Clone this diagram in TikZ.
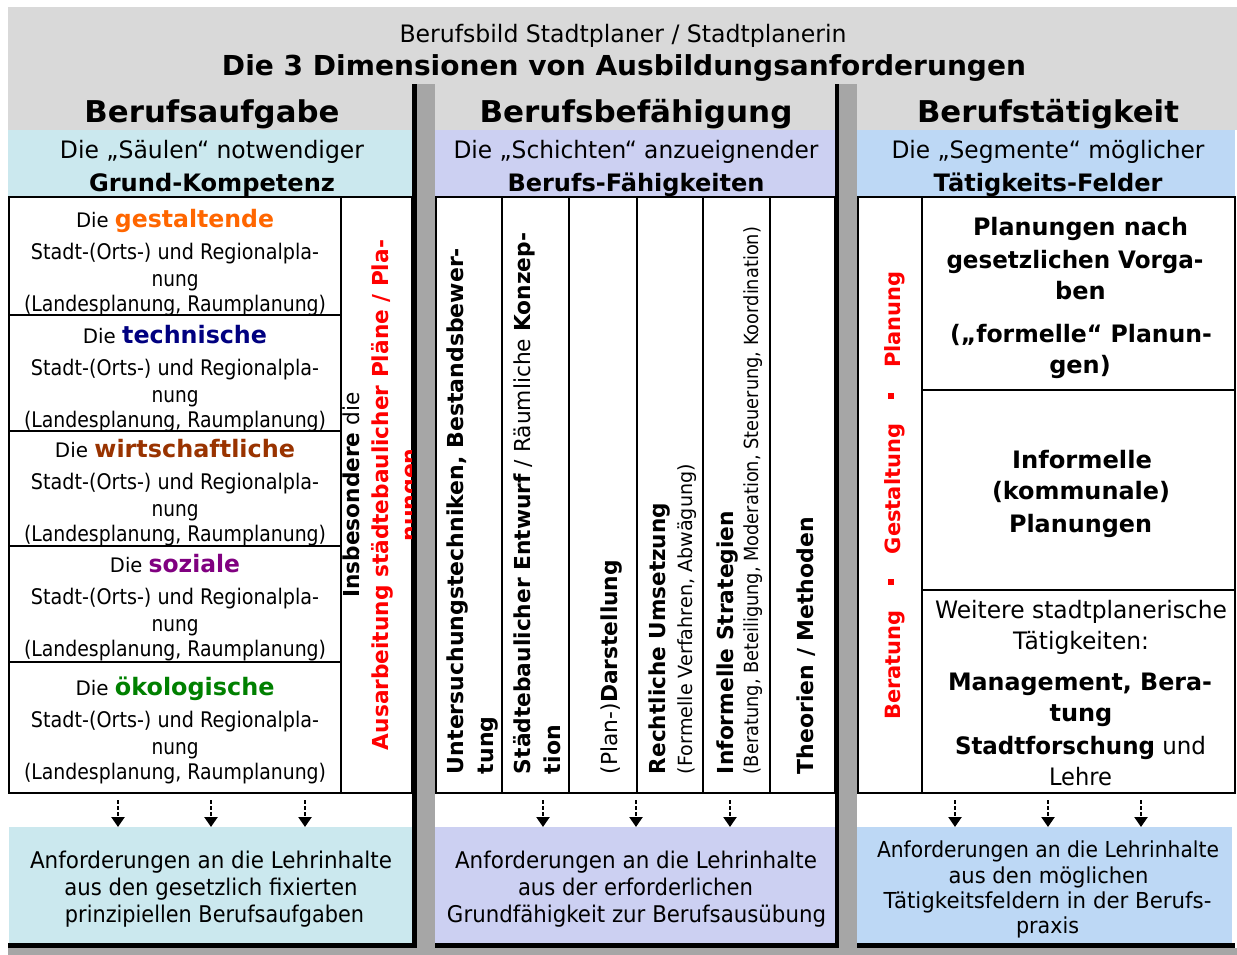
\documentclass[tikz,border=0pt]{standalone}
\usepackage{fontspec}
\setmainfont{DejaVu Sans}
\usepackage{graphicx}
\usetikzlibrary{arrows.meta}
\definecolor{hdr}{HTML}{D9D9D9}
\definecolor{sepgray}{HTML}{A6A6A6}
\definecolor{cA}{HTML}{CBE8EE}
\definecolor{cB}{HTML}{CCD0F2}
\definecolor{cC}{HTML}{BDD8F5}
\definecolor{corange}{HTML}{FF6600}
\definecolor{cnavy}{HTML}{000080}
\definecolor{cbrown}{HTML}{993300}
\definecolor{cpurple}{HTML}{800080}
\definecolor{cgreen}{HTML}{008000}
\definecolor{cred}{HTML}{FF0000}
\newcommand\setfs[1]{\fontsize{#1pt}{#1pt}\selectfont}
\newcommand\fitw[2]{\resizebox{#1pt}{\height}{#2}}
\begin{document}
\begin{tikzpicture}[x=1pt,y=-1pt,
 txt/.style={inner sep=0pt,outer sep=0pt,anchor=base},
 rotc/.style={inner sep=0pt,outer sep=0pt,anchor=base,rotate=90},
 rotw/.style={inner sep=0pt,outer sep=0pt,anchor=base west,rotate=90},
 gridline/.style={draw=black,line width=2pt},
 band/.style={inner sep=0pt,outer sep=0pt,draw=none},
 arr/.style={line width=2.4pt,dash pattern=on 4pt off 2pt,-{Triangle[width=13pt,length=10pt]}}]
\useasboundingbox (0,0) rectangle (1237,955);
\fill[white] (0,0) rectangle (1237,955);
% header and bands
\fill[hdr] (8,7) rectangle (1237,130);
\fill[cA] (8,130) rectangle (412,196);
\fill[cB] (435,130) rectangle (835,196);
\fill[cC] (857,130) rectangle (1235,196);
% bottom boxes
\node[band,fill=cA,minimum width=403pt,minimum height=116pt] (box1) at (210.5,885) {};
\node[band,fill=cB,minimum width=400pt,minimum height=116pt] (box2) at (635,885) {};
\node[band,fill=cC,minimum width=375pt,minimum height=116pt] (box3) at (1044.5,885) {};
% tables
\draw[gridline] (9,197) rectangle (412,793);
\draw[gridline] (341,197) -- (341,793);
\foreach \y in {315,431,546,662} \draw[gridline] (9,\y) -- (341,\y);
\draw[gridline] (436,197) rectangle (835,793);
\foreach \x in {502,569,637,703,770} \draw[gridline] (\x,197) -- (\x,793);
\draw[gridline] (858,197) rectangle (1235,793);
\draw[gridline] (922,197) -- (922,793);
\draw[gridline] (922,390) -- (1235,390);
\draw[gridline] (922,590) -- (1235,590);
% separators
\fill[sepgray] (417,84) rectangle (435,955);
\fill[sepgray] (839,84) rectangle (857,955);
\fill[black] (412,84) rectangle (417,948);
\fill[black] (835,84) rectangle (839,948);
\fill[black] (8,943) rectangle (417,948);
\fill[black] (435,943) rectangle (839,948);
\fill[black] (857,943) rectangle (1235,948);
\fill[sepgray] (8,948) rectangle (1237,955);
% arrows
\foreach \i/\x in {1/118,2/211,3/305} {\coordinate (ar\i) at (\x,800); \draw[arr] (ar\i) -- (ar\i |- box1.north);}
\foreach \i/\x in {4/543,5/636,6/730} {\coordinate (ar\i) at (\x,800); \draw[arr] (ar\i) -- (ar\i |- box2.north);}
\foreach \i/\x in {7/955,8/1048,9/1141} {\coordinate (ar\i) at (\x,800); \draw[arr] (ar\i) -- (ar\i |- box3.north);}
% title
\node[txt] (t1) at (623,43) {\setfs{24}\fitw{447}{Berufsbild Stadtplaner / Stadtplanerin}};
\node[txt] (t2) at (624,76) {\setfs{27.5}\bfseries\fitw{804}{Die 3 Dimensionen von Ausbildungsanforderungen}};
% column titles
\node[txt] (h1) at (212,123) {\setfs{30}\bfseries\fitw{255}{Berufsaufgabe}};
\node[txt] (h2) at (636,123) {\setfs{30}\bfseries\fitw{313}{Berufsbefähigung}};
\node[txt] (h3) at (1048,123) {\setfs{30}\bfseries\fitw{262}{Berufstätigkeit}};
% sub heads
\node[txt] (s1a) at (212,159) {\setfs{24}\fitw{304}{Die „Säulen“ notwendiger}};
\node[txt] (s1b) at (212,191) {\setfs{24}\bfseries\fitw{246}{Grund-Kompetenz}};
\node[txt] (s2a) at (636,159) {\setfs{24}\fitw{365}{Die „Schichten“ anzueignender}};
\node[txt] (s2b) at (636,191) {\setfs{24}\bfseries\fitw{257}{Berufs-Fähigkeiten}};
\node[txt] (s3a) at (1048,159) {\setfs{24}\fitw{313}{Die „Segmente“ möglicher}};
\node[txt] (s3b) at (1048,191) {\setfs{24}\bfseries\fitw{229}{Tätigkeits-Felder}};
% column 1 cells
\foreach \n/\c/\w/\ww/\y in {1/corange/gestaltende/198/227, 2/cnavy/technische/184/343, 3/cbrown/wirtschaftliche/240/457, 4/cpurple/soziale/130/572, 5/cgreen/ökologische/199/695}{
 \node[txt] (die\n) at (175,\y) {\fitw{\ww}{\setfs{20}Die \setfs{24}\bfseries\color{\c}\w}};
 \node[txt] (st\n) at (175,\y+32) {\setfs{21.5}\fitw{288}{Stadt-(Orts-) und Regionalpla-}};
 \node[txt] (nu\n) at (175,\y+59) {\setfs{21.5}\fitw{47}{nung}};
 \node[txt] (la\n) at (175,\y+84) {\setfs{21.5}\fitw{302}{(Landesplanung, Raumplanung)}};
}
\begin{scope}
\clip (342,198) rectangle (411,792);
\node[rotc] (ins) at (359,495) {\setfs{22}\fitw{205}{\textbf{Insbesondere} die}};
\node[rotc,text=cred] (aus) at (388,495) {\setfs{22}\bfseries\fitw{510}{Ausarbeitung städtebaulicher Pläne / Pla-}};
\node[rotc,text=cred] (nun) at (417,495) {\setfs{22}\bfseries nungen};
\end{scope}
% column 2 rotated
\node[rotw] (u1) at (463,774) {\setfs{22}\bfseries\fitw{526}{Untersuchungstechniken, Bestandsbewer-}};
\node[rotw] (u2) at (493,774) {\setfs{22}\bfseries tung};
\node[rotw] (k1) at (530,774) {\setfs{22}\fitw{541}{\textbf{Städtebaulicher Entwurf} / Räumliche \textbf{Konzep-}}};
\node[rotw] (k2) at (560,774) {\setfs{22}\bfseries tion};
\node[rotw] (d1) at (617,774) {\setfs{22}\fitw{214}{(Plan-)\textbf{Darstellung}}};
\node[rotw] (r1) at (665,774) {\setfs{22}\bfseries\fitw{271}{Rechtliche Umsetzung}};
\node[rotw] (r2) at (692,774) {\setfs{19.5}\fitw{310}{(Formelle Verfahren, Abwägung)}};
\node[rotw] (i1) at (733,774) {\setfs{22}\bfseries\fitw{263}{Informelle Strategien}};
\node[rotw] (i2) at (758,774) {\setfs{19.5}\fitw{547}{(Beratung, Beteiligung, Moderation, Steuerung, Koordination)}};
\node[rotw] (th) at (813,774) {\setfs{22}\bfseries\fitw{257}{Theorien / Methoden}};
% column 3
\node[rotc,text=cred] (bgp) at (900,495.5) {\setfs{21}\bfseries Beratung\hspace{25pt}\raisebox{6pt}{\rule{6pt}{6pt}}\hspace{25pt}Gestaltung\hspace{25pt}\raisebox{6pt}{\rule{6pt}{6pt}}\hspace{25pt}Planung};
\node[txt] (pl1) at (1080.5,235) {\setfs{24}\bfseries\fitw{215}{Planungen nach}};
\node[txt] (pl2) at (1075,268) {\setfs{24}\bfseries\fitw{257}{gesetzlichen Vorga-}};
\node[txt] (pl3) at (1080.5,299) {\setfs{24}\bfseries ben};
\node[txt] (pl4) at (1081,342) {\setfs{24}\bfseries\fitw{262}{(„formelle“ Planun-}};
\node[txt] (pl5) at (1080,373) {\setfs{24}\bfseries gen)};
\node[txt] (in1) at (1082,468) {\setfs{24}\bfseries\fitw{140}{Informelle}};
\node[txt] (in2) at (1081,499) {\setfs{24}\bfseries\fitw{178}{(kommunale)}};
\node[txt] (in3) at (1080.5,532) {\setfs{24}\bfseries\fitw{143}{Planungen}};
\node[txt] (w1) at (1081,618) {\setfs{24}\fitw{292}{Weitere stadtplanerische}};
\node[txt] (w2) at (1081,649) {\setfs{24}\fitw{136}{Tätigkeiten:}};
\node[txt] (w3) at (1080,690) {\setfs{24}\bfseries\fitw{264}{Management, Bera-}};
\node[txt] (w4) at (1081,721) {\setfs{24}\bfseries tung};
\node[txt] (w5) at (1080.5,754) {\setfs{24}\fitw{251}{\textbf{Stadtforschung} und}};
\node[txt] (w6) at (1080.5,785) {\setfs{24}\fitw{63}{Lehre}};
% bottom texts
\node[txt] (a1) at (211,868) {\setfs{23}\fitw{362}{Anforderungen an die Lehrinhalte}};
\node[txt] (a2) at (211,895) {\setfs{23}\fitw{293}{aus den gesetzlich fixierten}};
\node[txt] (a3) at (214.5,922) {\setfs{23}\fitw{299}{prinzipiellen Berufsaufgaben}};
\node[txt] (b1) at (636,868) {\setfs{23}\fitw{362}{Anforderungen an die Lehrinhalte}};
\node[txt] (b2) at (635.5,895) {\setfs{23}\fitw{235}{aus der erforderlichen}};
\node[txt] (b3) at (636.5,922) {\setfs{23}\fitw{379}{Grundfähigkeit zur Berufsausübung}};
\node[txt] (c1) at (1048,857) {\setfs{22}\fitw{342}{Anforderungen an die Lehrinhalte}};
\node[txt] (c2) at (1048.5,883) {\setfs{22}\fitw{200}{aus den möglichen}};
\node[txt] (c3) at (1047.5,908) {\setfs{22}\fitw{328}{Tätigkeitsfeldern in der Berufs-}};
\node[txt] (c4) at (1047.5,933) {\setfs{22}\fitw{63}{praxis}};
\end{tikzpicture}
\end{document}
